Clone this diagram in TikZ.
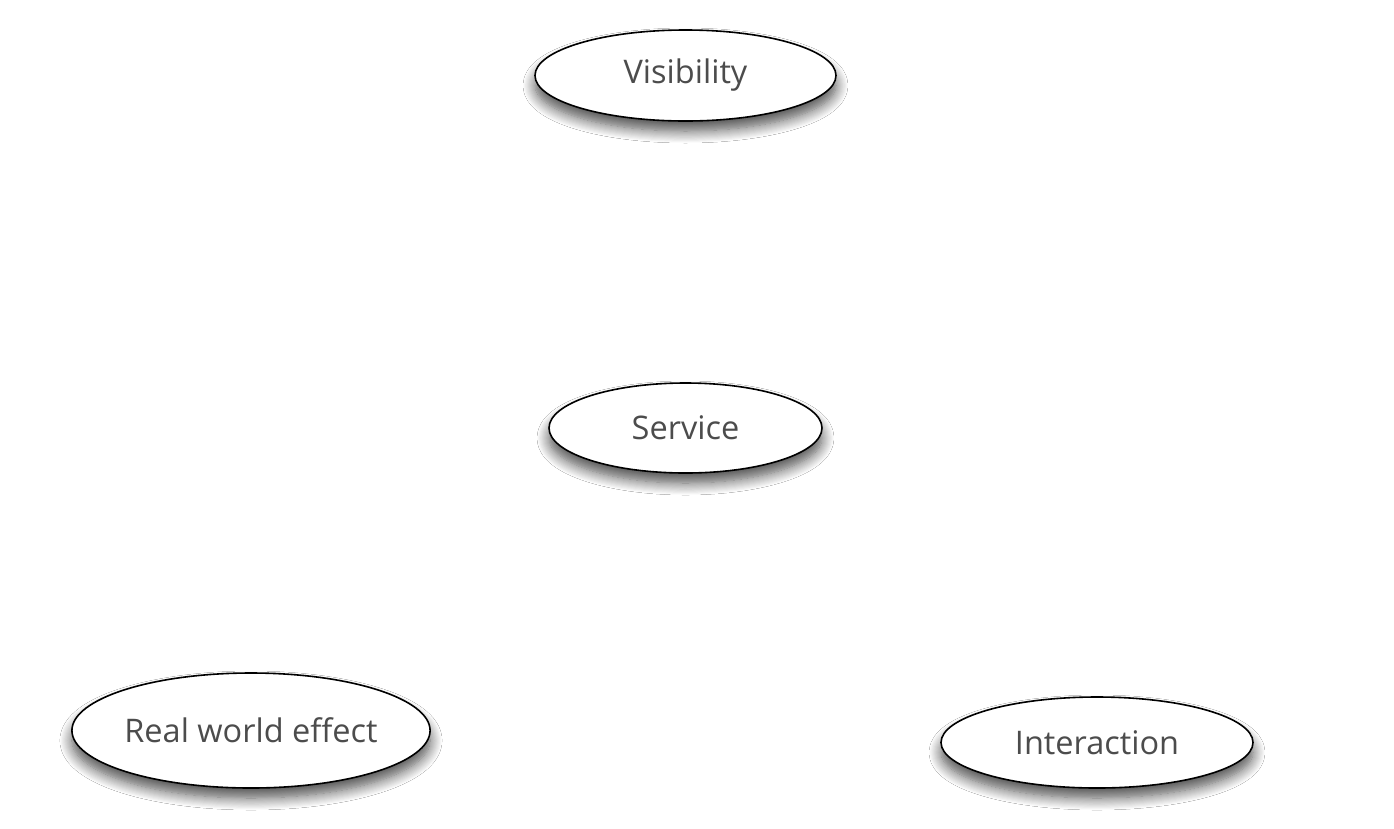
\documentclass[tikz,border=0pt]{standalone}
\usepackage{fontspec}
\setmainfont{Open Sans}
\usetikzlibrary{shapes.geometric,shadows.blur}
\tikzset{
  oval/.style={ellipse, draw=black, line width=1.6pt, fill=white, inner sep=0pt,
    font=\fontsize{32.5}{38}\selectfont, text=black!70,
    blur shadow={shadow xshift=0pt, shadow yshift=-10pt, shadow blur radius=12pt, shadow blur steps=12, shadow opacity=70}}
}
\begin{document}
\begin{tikzpicture}[x=1pt,y=-1pt]
\useasboundingbox[fill=white] (0,0) rectangle (1394,828);
\node[oval, minimum width=301pt, minimum height=91pt] (vis) at (685.5,75.5) {Visibility};
\node[oval, minimum width=273pt, minimum height=90pt] (serv) at (685.5,428) {Service};
\node[oval, minimum width=358pt, minimum height=115pt] (rwe) at (251,730.5) {Real world effect};
\node[oval, minimum width=312pt, minimum height=91pt] (inter) at (1097,742.5) {Interaction};
\end{tikzpicture}
\end{document}
